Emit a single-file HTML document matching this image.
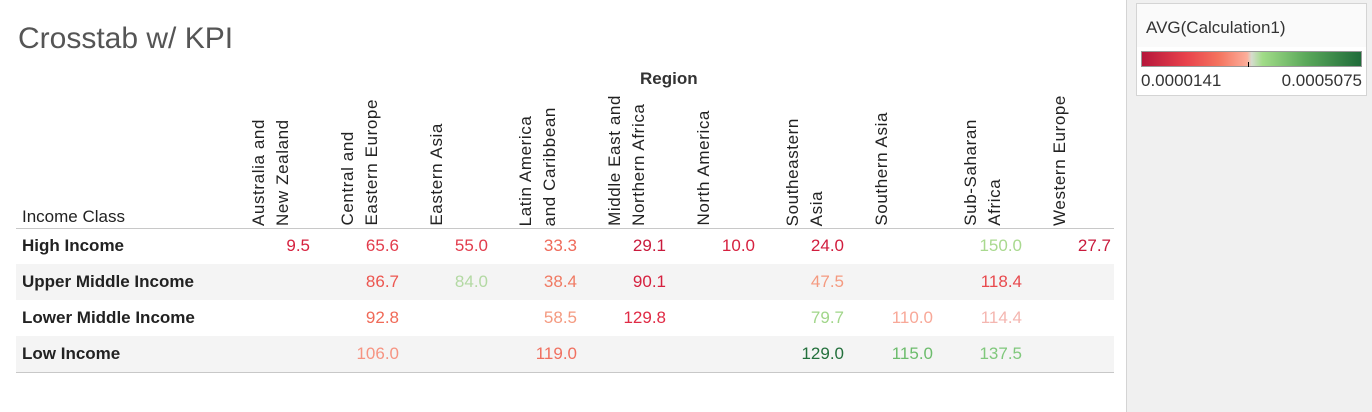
<!DOCTYPE html>
<html><head><meta charset="utf-8"><style>
body{margin:0;width:1372px;height:412px;background:#f0f0f0;font-family:"Liberation Sans",sans-serif;position:relative;overflow:hidden}
#main{position:absolute;left:0;top:0;width:1126px;height:412px;background:#fff;border-right:1px solid #d4d4d4}
.abs{position:absolute}
.hdr{position:absolute;writing-mode:vertical-rl;transform:rotate(180deg);font-size:17px;letter-spacing:0.6px;color:#222;line-height:24px;white-space:nowrap}
.val{position:absolute;font-size:17px;text-align:right;width:80px}
.rl{position:absolute;left:22px;font-size:17px;font-weight:bold;color:#222}
</style></head><body>
<div id="main">
<div class="abs" style="left:18px;top:22px;font-size:30px;color:#555">Crosstab w/ KPI</div>
<div class="abs" style="left:640px;top:69px;font-size:17px;font-weight:bold;color:#333">Region</div>
<div class="abs" style="left:22px;top:207px;font-size:17px;color:#222">Income Class</div>
<div class="abs" style="left:16px;top:228px;width:1098px;height:1px;background:#c8c8c8"></div>
<div class="abs" style="left:16px;top:264px;width:1098px;height:36px;background:#f4f4f4"></div>
<div class="abs" style="left:16px;top:336px;width:1098px;height:36px;background:#f4f4f4"></div>
<div class="abs" style="left:16px;top:372px;width:1098px;height:1px;background:#c8c8c8"></div>
<div id="tbl"></div>
</div>
<div class="abs" style="left:1136px;top:3px;width:229px;height:91px;background:#fafafa;border:1px solid #d4d4d4">
<div class="abs" style="left:9px;top:14px;font-size:17px;color:#333">AVG(Calculation1)</div>
<div class="abs" style="left:0;top:43px;width:229px;height:48px;background:#fff"></div>
<div class="abs" style="left:4px;top:47px;width:219px;height:14px;border:1px solid #999;background:linear-gradient(90deg,#b5173b,#e8414b 20%,#f4735e 35%,#fcae9a 48%,#d6dccf 50%,#a1dc88 55%,#5aa85a 75%,#1f6b3a)"></div>
<div class="abs" style="left:111px;top:58px;width:1px;height:5px;background:#000"></div>
<div class="abs" style="left:4px;top:67px;font-size:17px;color:#333">0.0000141</div>
<div class="abs" style="right:4px;top:67px;font-size:17px;color:#333">0.0005075</div>
</div>
<script>
const regions=[["Australia and","New Zealand"],["Central and","Eastern Europe"],["Eastern Asia"],["Latin America","and Caribbean"],["Middle East and","Northern Africa"],["North America"],["Southeastern","Asia"],["Southern Asia"],["Sub-Saharan","Africa"],["Western Europe"]];
const incomes=["High Income","Upper Middle Income","Lower Middle Income","Low Income"];
const values=[
[9.5,65.6,55.0,33.3,29.1,10.0,24.0,null,150.0,27.7],
[null,86.7,84.0,38.4,90.1,null,47.5,null,118.4,null],
[null,92.8,null,58.5,129.8,null,79.7,110.0,114.4,null],
[null,106.0,null,119.0,null,null,129.0,115.0,137.5,null]];
const colors=[
["#d6213f","#e23c4c","#e23c4c","#ef6a5a","#c91a3c","#d6213f","#d11d3e",null,"#a9d98f","#c91a3c"],
[null,"#ec5650","#b3d9a3","#f07a63","#d6213f",null,"#f49a80",null,"#e84a4e",null],
[null,"#f06a58",null,"#f49a80","#e02a45",null,"#a1d68a","#f8a898","#f4b6b0",null],
[null,"#f69482",null,"#f07060",null,null,"#23703c","#6cbc6c","#80c87c",null]];
const tbl=document.getElementById('tbl');
const colX=i=>220+89*i;
regions.forEach((r,i)=>{
  const d=document.createElement('div');d.className='hdr';
  
  
  d.style.left=(colX(i)+27)+'px';d.style.bottom=(412-226)+'px';
  d.innerHTML=r.join('<br>');tbl.appendChild(d);
});
incomes.forEach((n,j)=>{
  const d=document.createElement('div');d.className='rl';
  
  
  d.style.top=(236+36*j)+'px';d.textContent=n;tbl.appendChild(d);
  values[j].forEach((v,i)=>{
    if(v===null)return;
    const c=document.createElement('div');c.className='val';
    
    
    c.style.left=(colX(i)+10)+'px';c.style.top=(236+36*j)+'px';
    c.style.color=colors[j][i];c.textContent=v.toFixed(1);tbl.appendChild(c);
  });
});
</script>
</body></html>
